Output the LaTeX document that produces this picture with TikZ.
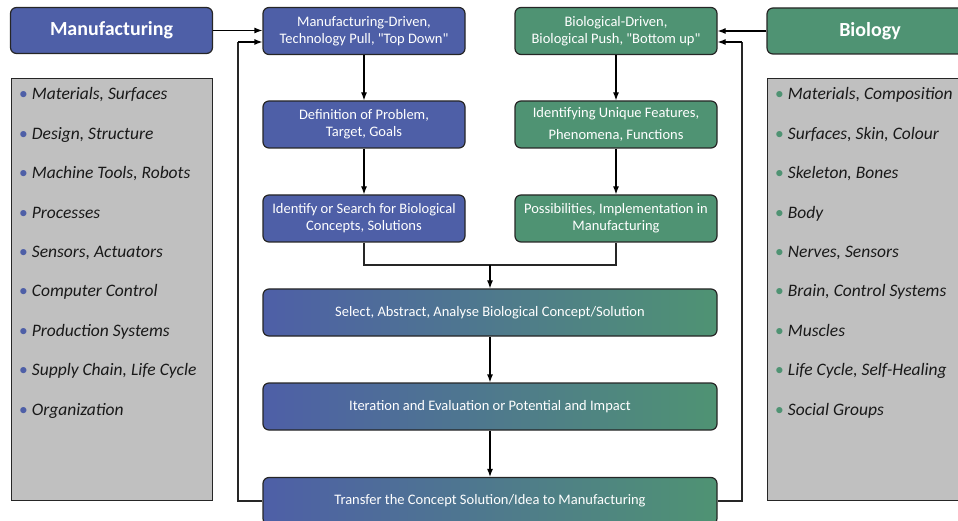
\documentclass[tikz,border=0pt]{standalone}
\usepackage{fontspec}
\setmainfont{Carlito}[Ligatures=TeXOff]
\usetikzlibrary{arrows.meta,positioning}
\definecolor{mblue}{HTML}{4E5FA7}
\definecolor{bgreen}{HTML}{4F9373}
\definecolor{panel}{HTML}{C0C0C0}
\definecolor{edge}{HTML}{262626}
\tikzset{
  box/.style={draw=edge, line width=1.2pt, rounded corners=6pt, text=white,
    font=\fontsize{14.5}{17}\selectfont, align=center, inner sep=2pt},
  mbox/.style={box, fill=mblue, minimum width=202pt, minimum height=47pt},
  gbox/.style={box, fill=bgreen, minimum width=202pt, minimum height=47pt},
  wide/.style={box, left color=mblue, right color=bgreen, minimum width=454pt, minimum height=47pt},
  head/.style={box, font=\fontsize{20}{22}\selectfont\bfseries, minimum width=202pt, minimum height=46pt},
  panelbox/.style={draw=edge, line width=1pt, fill=panel},
  item/.style={anchor=base west, font=\fontsize{17.5}{20}\selectfont\itshape, text=black!90, inner sep=0pt},
  flow/.style={draw=black, line width=1.2pt, -{Latex[length=8pt,width=6pt]}},
  link/.style={draw=edge, line width=1.2pt},
}
\begin{document}
\begin{tikzpicture}[x=1pt,y=-1pt]
\useasboundingbox (0,0) rectangle (958,521);
\clip (0,0) rectangle (958,521);

% side panels with the two lists
\node[panelbox, minimum width=201pt, minimum height=422pt, anchor=north west, inner sep=0pt] (lpanel) at (11,78) {};
\node[panelbox, minimum width=200pt, minimum height=422pt, anchor=north west, inner sep=0pt] (rpanel) at (767,78) {};

\foreach \t [count=\i] in {{Materials, Surfaces},{Design, Structure},{Machine Tools, Robots},{Processes},{Sensors, Actuators},{Computer Control},{Production Systems},{Supply Chain, Life Cycle},{Organization}}
  \node[item] (l\i) at (19,{100+39.4*(\i-1)}) {\textcolor{mblue}{\upshape\textbullet}\hspace{4pt}\t};

\foreach \t [count=\i] in {{Materials, Composition},{Surfaces, Skin, Colour},{Skeleton, Bones},{Body},{Nerves, Sensors},{Brain, Control Systems},{Muscles},{Life Cycle, Self-Healing},{Social Groups}}
  \node[item] (r\i) at (775,{100+39.4*(\i-1)}) {\textcolor{bgreen}{\upshape\textbullet}\hspace{4pt}\t};

% headings
\node[head, fill=mblue] (mfg) at (111.5,30.5) {Manufacturing};
\node[head, fill=bgreen, minimum width=206pt] (bio) at (870,31) {Biology};

% the two driving columns
\node[mbox] (md)  at (364,31)    {Manufacturing-Driven,\\Technology Pull, "Top Down"};
\node[gbox] (bd)  at (616,31)    {Biological-Driven,\\Biological Push, "Bottom up"};
\node[mbox] (def) at (364,124.5) {Definition of Problem,\\Target, Goals};
\node[gbox] (uni) at (616,124.5) {Identifying Unique Features,\\[5pt]Phenomena, Functions};
\node[mbox] (ide) at (364,218.5) {Identify or Search for Biological\\Concepts, Solutions};
\node[gbox] (pos) at (616,218.5) {Possibilities, Implementation in\\Manufacturing};

% shared steps
\node[wide] (sel) at (490,312.5) {Select, Abstract, Analyse Biological Concept/Solution};
\node[wide] (ite) at (490,406.5) {Iteration and Evaluation or Potential and Impact};
\node[wide] (tra) at (490,501)   {Transfer the Concept Solution/Idea to Manufacturing};

% connectors
\coordinate (jn) at (490,265);
\coordinate (lk) at (238,42);
\coordinate (rk) at (742,42);

\draw[flow] (mfg.east) -- (mfg.east -| md.west);
\draw[flow] (bio.west) -- (bio.west -| bd.east);
\draw[flow] (md) -- (def);
\draw[flow] (bd) -- (uni);
\draw[flow] (def) -- (ide);
\draw[flow] (uni) -- (pos);
\draw[link] (ide.south) |- (jn) -| (pos.south);
\draw[flow] (jn) -- (sel.north);
\draw[flow] (sel) -- (ite);
\draw[flow] (ite) -- (tra);
\draw[link] (tra.west) -| (lk);
\draw[flow] (lk) -- (lk -| md.west);
\draw[link] (tra.east) -| (rk);
\draw[flow] (rk) -- (rk -| bd.east);
\end{tikzpicture}
\end{document}
